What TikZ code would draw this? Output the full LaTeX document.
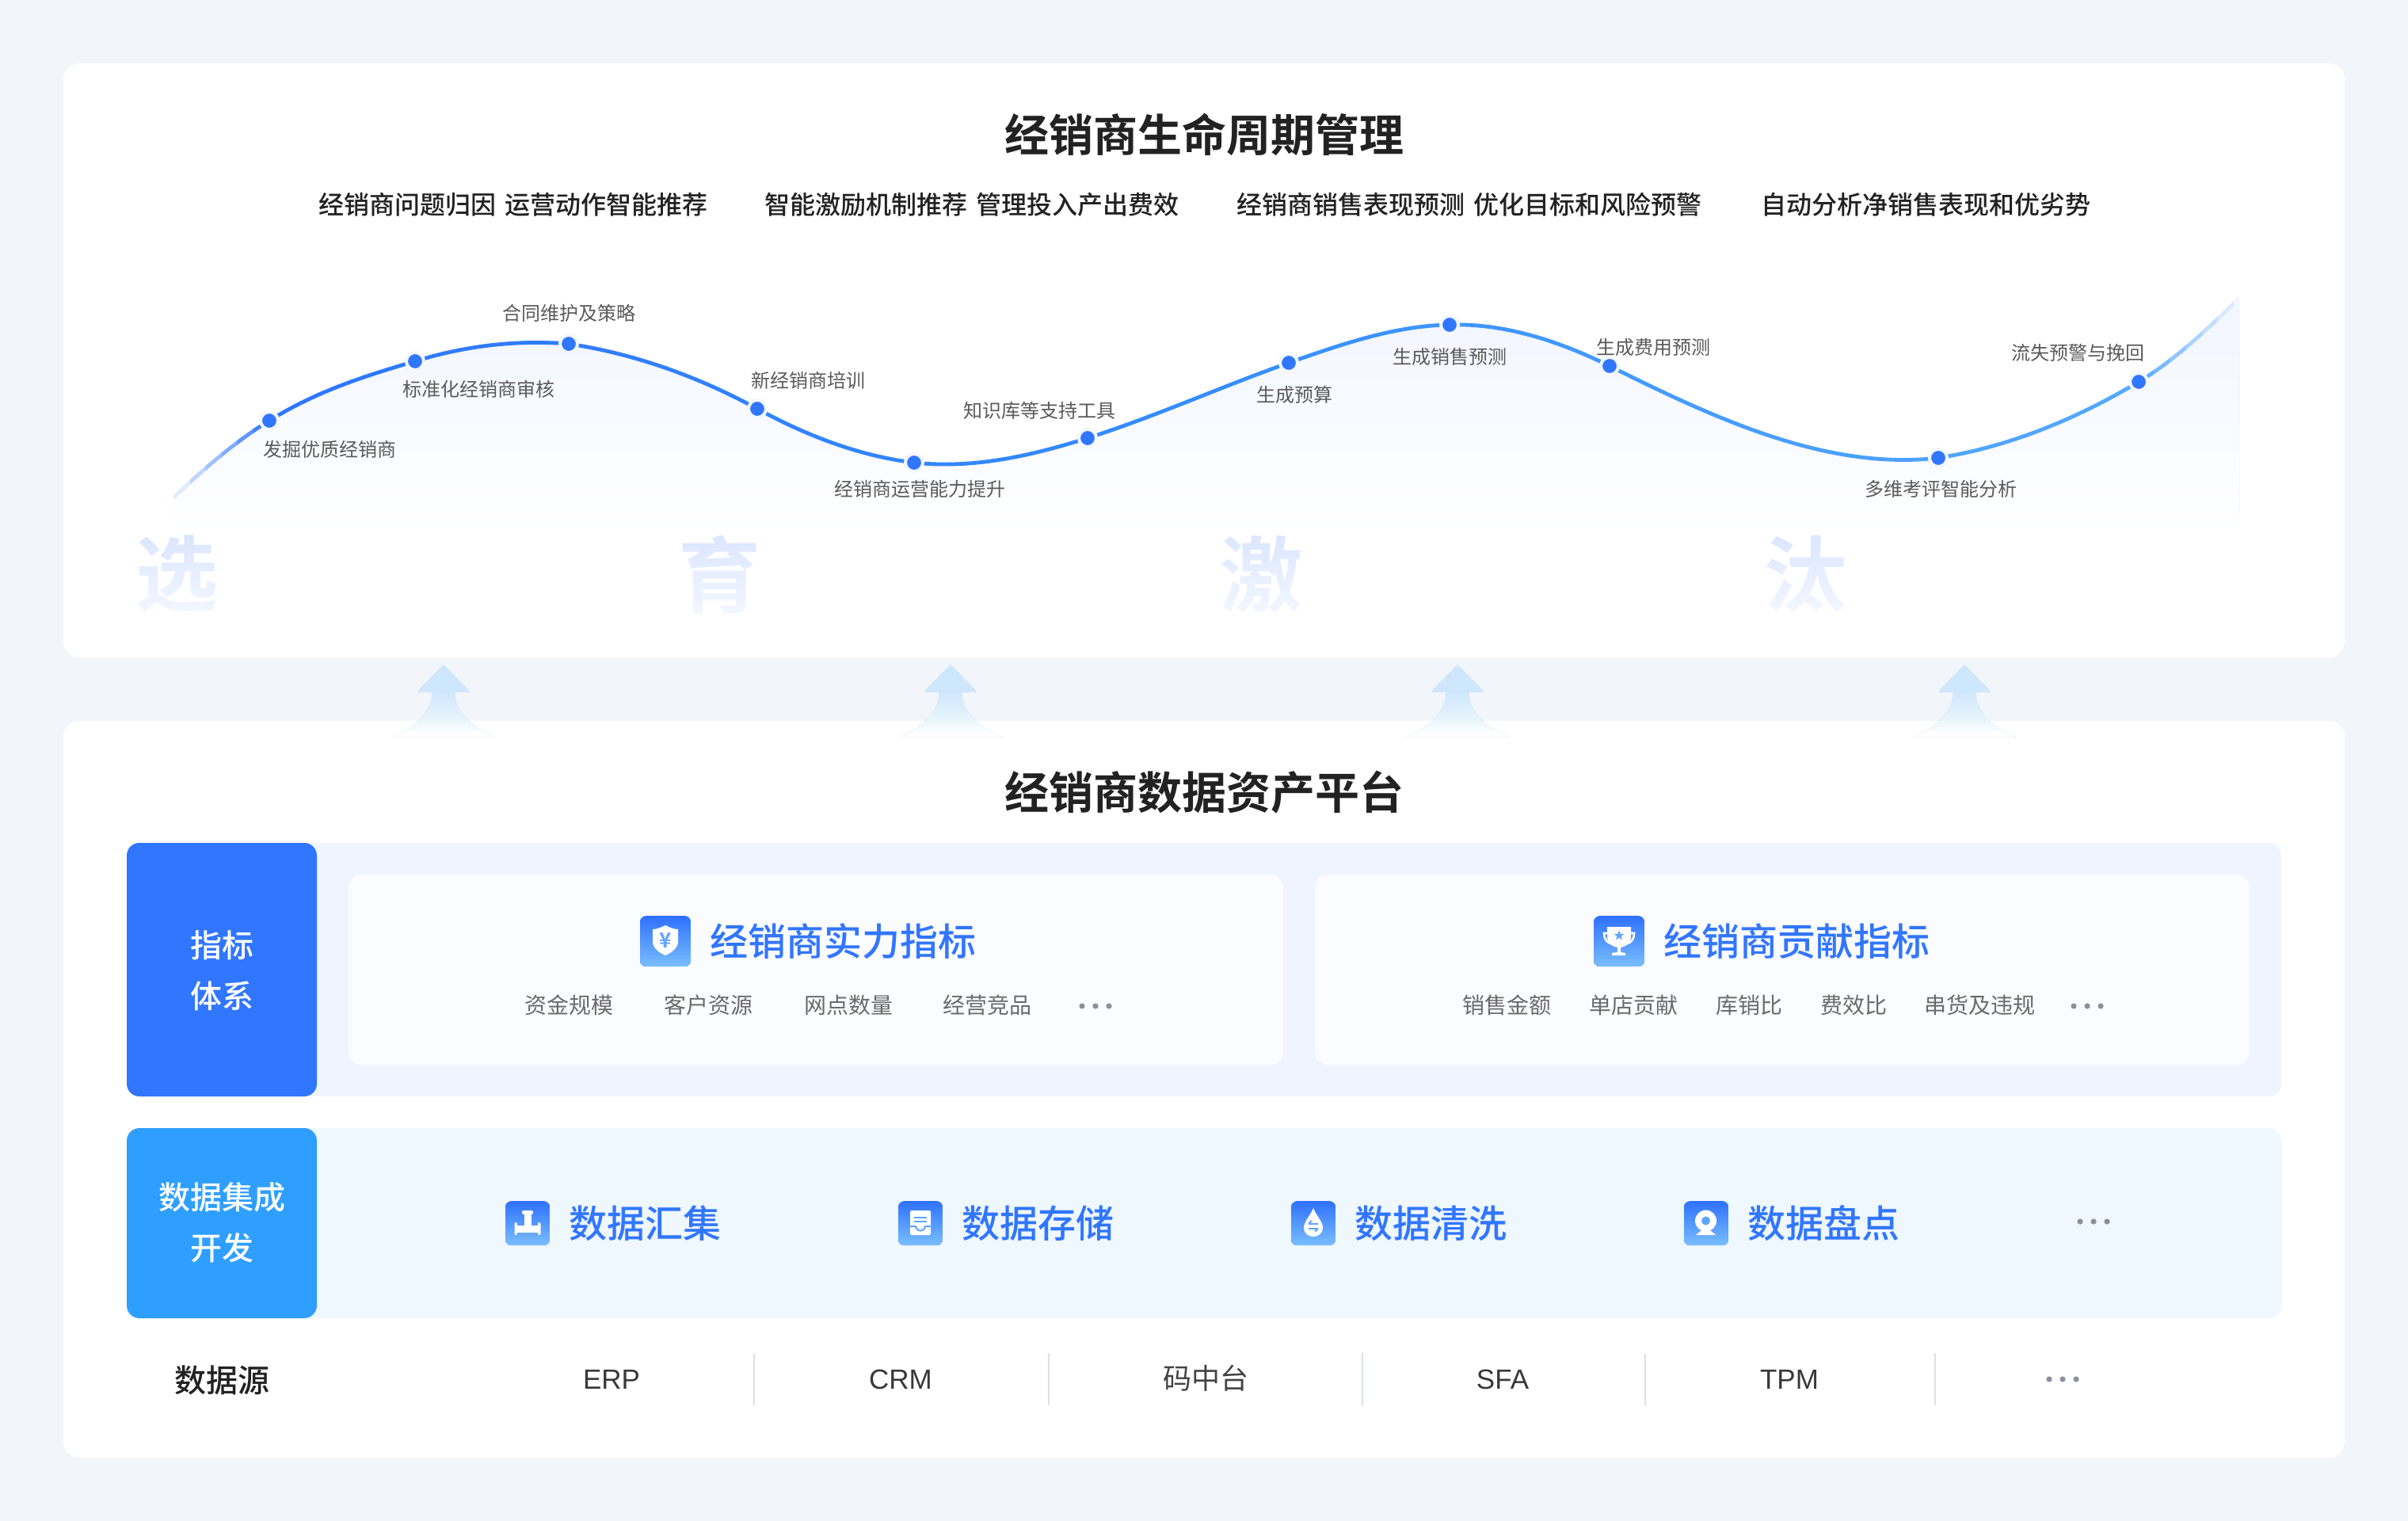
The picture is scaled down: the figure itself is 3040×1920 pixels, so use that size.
\documentclass[tikz,border=0pt]{standalone}
\usepackage{fontspec}
\usetikzlibrary{fadings,shapes.geometric}
\setmainfont{Noto Sans CJK SC}[BoldFont={Noto Sans CJK SC Bold}]
\newfontfamily\medf{Noto Sans CJK SC Medium}
\newfontfamily\latf{Liberation Sans}
\definecolor{pagebg}{HTML}{F2F5FA}
\definecolor{band1}{HTML}{F0F4FE}
\definecolor{band2}{HTML}{EFF7FF}
\definecolor{inner}{HTML}{FBFCFF}
\definecolor{blueA}{HTML}{3176FF}
\definecolor{blueB}{HTML}{2F9FFF}
\definecolor{ink}{HTML}{222222}
\definecolor{gray5}{HTML}{5A5A5A}
\definecolor{gray6}{HTML}{6A6A6A}
\definecolor{dotgray}{HTML}{8A8F99}
\definecolor{sepc}{HTML}{DDE1E8}
\definecolor{halo}{HTML}{F3F7FF}
\definecolor{bigc}{HTML}{D9E5FF}
\definecolor{icG}{HTML}{5FA4FF}
\begin{tikzfading}[name=fadedown,top color=transparent!100,bottom color=transparent!25]\end{tikzfading}
\newcommand{\fz}[1]{\fontsize{\dimexpr#1pt/2\relax}{\dimexpr#1pt/2\relax}\selectfont}
\newcommand{\curvepts}{(217,630) .. controls (258,591) and (299,556) .. (340,531)
 .. controls (401,493) and (463,474) .. (524,456)
 .. controls (589,436) and (653,429) .. (718,434)
 .. controls (797,446) and (877,473) .. (956,516)
 .. controls (1022,552) and (1088,576) .. (1154,584)
 .. controls (1227,592) and (1300,576) .. (1373,553)
 .. controls (1458,526) and (1542,488) .. (1627,458)
 .. controls (1695,434) and (1762,411) .. (1830,410)
 .. controls (1897,408) and (1965,429) .. (2032,462)
 .. controls (2170,531) and (2309,594) .. (2447,578)
 .. controls (2531,565) and (2616,532) .. (2700,482)
 .. controls (2742,457) and (2785,418) .. (2827,376)}
\tikzset{
  panel/.style={fill=white,draw=none,rounded corners=10pt},
  tagbox/.style={draw=none,rounded corners=8pt,inner sep=0pt},
  tagtext/.style={font=\fz{40}\medf,text=white,inner sep=0pt},
  title/.style={font=\fz{56}\bfseries,text=ink,inner sep=0pt},
  subtitle/.style={font=\fz{32}\medf,text=ink,inner sep=0pt},
  cuvlabel/.style={font=\fz{24},text=gray5,inner sep=0pt},
  bigchar/.style={font=\fz{104}\bfseries,text=bigc,inner sep=0pt},
  headblue/.style={font=\fz{48}\medf,text=blueA,inner sep=0pt,anchor=west},
  sublabel/.style={font=\fz{28},text=gray6,inner sep=0pt},
  srclabel/.style={font=\fz{36},text=ink!85,inner sep=0pt},
  srclatin/.style={font=\fz{35}\latf,text=ink!90,inner sep=0pt},
  ptdot/.style={circle,fill=blueA,draw=halo,line width=2pt,minimum size=11pt,inner sep=0pt},
  morepoint/.style={circle,fill=dotgray,draw=none,minimum size=3.6pt,inner sep=0pt},
  sepline/.style={draw=sepc,line width=1pt},
  glyphw/.style={fill=white,draw=none},
}
\newcommand{\morepts}[3]{%
  \node[morepoint] (#1a) at (#2-17,#3) {};
  \node[morepoint] (#1b) at (#2,#3) {};
  \node[morepoint] (#1c) at (#2+17,#3) {};}
\newcommand{\uparrowat}[1]{%
  \begin{scope}
  \clip (#1,839) -- (#1+31,871) -- (#1+32,874) -- (#1+14,873)
   .. controls (#1+14,895) and (#1+30,916) .. (#1+64,930) -- (#1-64,930)
   .. controls (#1-30,916) and (#1-14,895) .. (#1-14,873) -- (#1-32,874) -- (#1-31,871) -- cycle;
  \foreach \yy in {839,842,...,929}{
    \pgfmathsetmacro{\rr}{\yy<872?0.812:(\yy<905?0.812+(0.902-0.812)*(\yy-872)/33:(\yy<925?0.902+(1-0.902)*(\yy-905)/20:1))}
    \pgfmathsetmacro{\gg}{\yy<872?0.906:(\yy<905?0.906+(0.957-0.906)*(\yy-872)/33:(\yy<925?0.957+(1-0.957)*(\yy-905)/20:1))}
    \pgfmathsetmacro{\bb}{\yy<872?0.992:(\yy<905?0.992+(0.988-0.992)*(\yy-872)/33:(\yy<925?0.988+(1-0.988)*(\yy-905)/20:1))}
    \definecolor{stripc}{rgb}{\rr,\gg,\bb}
    \fill[stripc] (#1-70,\yy) rectangle (#1+70,932);
  }
  \end{scope}}
\newcommand{\gradicon}[3]{% x, y, size
  \begin{scope}
  \clip[rounded corners=4pt] (#1,#2) rectangle (#1+#3,#2+#3);
  \foreach \tt in {0,0.04,...,1.0}{
    \pgfmathsetmacro{\rr}{0.184+(0.478-0.184)*\tt}
    \pgfmathsetmacro{\gg}{0.447+(0.749-0.447)*\tt}
    \definecolor{stripc}{rgb}{\rr,\gg,1}
    \fill[stripc] (#1,{#2+\tt*#3}) rectangle (#1+#3,#2+#3);
  }
  \end{scope}}
\begin{document}
\begin{tikzpicture}[x=0.5pt,y=-0.5pt]
\useasboundingbox (0,0) rectangle (3040,1920);
\fill[pagebg] (0,0) rectangle (3040,1920);
% panels
\path[panel] (80,80) rectangle (2960,830);
\path[panel] (80,910) rectangle (2960,1840);
\node[title] (t1) at (1520,170) {经销商生命周期管理};
\node[subtitle] (s1) at (648,258) {经销商问题归因 \kern2pt运营动作智能推荐};
\node[subtitle] (s2) at (1227,258) {智能激励机制推荐 \kern2pt管理投入产出费效};
\node[subtitle] (s3) at (1855,258) {经销商销售表现预测 \kern2pt优化目标和风险预警};
\node[subtitle] (s4) at (2431,258) {自动分析净销售表现和优劣势};
% area under the curve, painted top to bottom in solid bands
\begin{scope}
  \clip \curvepts -- (2827,672) -- (217,672) -- cycle;
  \foreach \yy in {376,380,...,680}{
    \pgfmathsetmacro{\tt}{min(1,(\yy-376)/290)}
    \pgfmathsetmacro{\rr}{0.945+0.055*\tt}
    \pgfmathsetmacro{\gg}{0.961+0.039*\tt}
    \definecolor{stripc}{rgb}{\rr,\gg,1}
    \fill[stripc] (200,\yy) rectangle (2840,690);
  }
\end{scope}
\fill[white] (200,664) rectangle (2840,680);
% curve, coloured strip by strip along x
\foreach \xa in {200,220,...,2820}{
  \pgfmathsetmacro{\xm}{\xa+10}
  \pgfmathsetmacro{\rr}{\xm<340?1-(\xm-210)/130*(1-0.184):(\xm<1500?0.184+0.02*(\xm-340)/1160:(\xm<2700?0.204+0.13*(\xm-1500)/1200:0.334+0.6*(\xm-2700)/127))}
  \pgfmathsetmacro{\gg}{\xm<340?1-(\xm-210)/130*(1-0.463):(\xm<1500?0.463+0.09*(\xm-340)/1160:(\xm<2700?0.553+0.11*(\xm-1500)/1200:0.663+0.29*(\xm-2700)/127))}
  \definecolor{stripc}{rgb}{\rr,\gg,1}
  \begin{scope}
    \clip (\xa-0.5,360) rectangle (\xa+20.5,650);
    \draw[stripc,line width=2.4pt] \curvepts;
  \end{scope}
}
\node[ptdot] (d1) at (340,531) {};
\node[ptdot] (d2) at (524,456) {};
\node[ptdot] (d3) at (718,434) {};
\node[ptdot] (d4) at (956,516) {};
\node[ptdot] (d5) at (1154,584) {};
\node[ptdot] (d6) at (1373,553) {};
\node[ptdot] (d7) at (1627,458) {};
\node[ptdot] (d8) at (1830,410) {};
\node[ptdot] (d9) at (2032,462) {};
\node[ptdot] (d10) at (2447,578) {};
\node[ptdot] (d11) at (2700,482) {};
\node[cuvlabel] (l1) at (416,567) {发掘优质经销商};
\node[cuvlabel] (l2) at (604,491) {标准化经销商审核};
\node[cuvlabel] (l3) at (718,395) {合同维护及策略};
\node[cuvlabel] (l4) at (1020,480) {新经销商培训};
\node[cuvlabel] (l5) at (1161,617) {经销商运营能力提升};
\node[cuvlabel] (l6) at (1312,518) {知识库等支持工具};
\node[cuvlabel] (l7) at (1634,498) {生成预算};
\node[cuvlabel] (l8) at (1830,450) {生成销售预测};
\node[cuvlabel] (l9) at (2087,438) {生成费用预测};
\node[cuvlabel] (l10) at (2450,617) {多维考评智能分析};
\node[cuvlabel] (l11) at (2623,445) {流失预警与挽回};
% big characters
\node[bigchar] (b1) at (223,725) {选};
\node[bigchar] (b2) at (908,725) {育};
\node[bigchar] (b3) at (1592,725) {激};
\node[bigchar] (b4) at (2279,725) {汰};
\fill[white,path fading=fadedown] (150,668) rectangle (2360,782);
% arrows
\uparrowat{560}
\uparrowat{1200}
\uparrowat{1840}
\uparrowat{2480}
% lower panel
\node[title] (t2) at (1520,1000) {经销商数据资产平台};
\fill[band1] (380,1064) -- (2864,1064) arc (-90:0:16) -- (2880,1368) arc (0:90:16) -- (380,1384) -- cycle;
\fill[band2] (380,1424) -- (2864,1424) arc (-90:0:16) -- (2880,1648) arc (0:90:16) -- (380,1664) -- cycle;
\node[tagbox,fill=blueA,minimum width=120pt,minimum height=160pt] (tag1) at (280,1224) {};
\node[tagbox,fill=blueB,minimum width=120pt,minimum height=120pt] (tag2) at (280,1544) {};
\node[tagtext] (tag1a) at (280,1193) {指标};
\node[tagtext] (tag1b) at (280,1257) {体系};
\node[tagtext] (tag2a) at (280,1511) {数据集成};
\node[tagtext] (tag2b) at (280,1575) {开发};
\path[fill=inner,rounded corners=8pt] (440,1104) rectangle (1620,1344);
\path[fill=inner,rounded corners=8pt] (1660,1104) rectangle (2840,1344);
% metric head 1
\gradicon{808}{1156}{64}
\fill[glyphw] (840,1168) .. controls (834,1171) and (829,1173) .. (824,1173) -- (824,1189) .. controls (824,1197) and (833,1203) .. (840,1206) .. controls (847,1203) and (856,1197) .. (856,1189) -- (856,1173) .. controls (851,1173) and (846,1171) .. (840,1168) -- cycle;
\node[font=\fz{26}\bfseries,text=icG,inner sep=0pt] (yen) at (840,1187) {¥};
\node[headblue] (h1) at (896,1188) {经销商实力指标};
\node[sublabel] (m1) at (718,1269) {资金规模};
\node[sublabel] (m2) at (894,1269) {客户资源};
\node[sublabel] (m3) at (1071,1269) {网点数量};
\node[sublabel] (m4) at (1246,1269) {经营竞品};
\morepts{ma}{1383}{1270}
% metric head 2
\gradicon{2012}{1156}{64}
\fill[glyphw] (2029,1170) -- (2059,1170) -- (2059,1184) .. controls (2059,1191) and (2052,1195) .. (2046,1196) -- (2046,1202) -- (2052,1203) -- (2052,1206) -- (2035,1206) -- (2035,1203) -- (2042,1202) -- (2042,1196) .. controls (2036,1195) and (2029,1191) .. (2029,1184) -- cycle;
\draw[white,line width=1.3pt] (2030,1178) -- (2025,1178) .. controls (2025,1185) and (2028,1189) .. (2033,1191);
\draw[white,line width=1.3pt] (2058,1178) -- (2063,1178) .. controls (2063,1185) and (2060,1189) .. (2055,1191);
\node[star,star points=5,star point ratio=2.4,fill=icG,minimum size=6.6pt,inner sep=0pt] (trstar) at (2044,1181) {};
\node[headblue] (h2) at (2100,1188) {经销商贡献指标};
\node[sublabel] (n1) at (1902,1269) {销售金额};
\node[sublabel] (n2) at (2062,1269) {单店贡献};
\node[sublabel] (n3) at (2208,1269) {库销比};
\node[sublabel] (n4) at (2340,1269) {费效比};
\node[sublabel] (n5) at (2499,1269) {串货及违规};
\morepts{mb}{2635}{1270}
% integration row
\gradicon{638}{1516}{56}
\fill[glyphw,rounded corners=1pt] (659,1528) rectangle (673,1533);
\fill[glyphw] (661.5,1530) rectangle (670.5,1548);
\fill[glyphw] (652,1547) rectangle (680,1556);
\fill[glyphw,rounded corners=1pt] (649.5,1543) rectangle (653,1559);
\fill[glyphw,rounded corners=1pt] (679,1543) rectangle (682.5,1559);
\node[headblue] (g1) at (718,1544) {数据汇集};
\gradicon{1134}{1516}{56}
\fill[glyphw,rounded corners=1pt] (1149,1528) rectangle (1175,1559);
\draw[icG,line width=1pt] (1154,1536.5) -- (1170,1536.5);
\draw[icG,line width=1pt] (1154,1542) -- (1170,1542);
\draw[icG,line width=1pt] (1149,1548) -- (1156,1548) .. controls (1157,1555.5) and (1167,1555.5) .. (1168,1548) -- (1175,1548);
\node[headblue] (g2) at (1214,1544) {数据存储};
\gradicon{1630}{1516}{56}
\fill[glyphw] (1658,1525) .. controls (1654,1535) and (1646,1542) .. (1646,1550) .. controls (1646,1557) and (1652,1561) .. (1658,1561) .. controls (1664,1561) and (1670,1557) .. (1670,1550) .. controls (1670,1542) and (1662,1535) .. (1658,1525) -- cycle;
\draw[icG,line width=1pt] (1652,1544.5) -- (1664,1544.5) (1652,1551) -- (1664,1551);
\draw[icG,line width=1pt] (1656,1541) -- (1652,1544.5) (1660,1554.5) -- (1664,1551);
\node[headblue] (g3) at (1710,1544) {数据清洗};
\gradicon{2126}{1516}{56}
\fill[glyphw] (2153.5,1541) circle (13.5);
\fill[icG] (2153.5,1541) circle (5.5);
\fill[glyphw] (2148,1553) -- (2159,1553) -- (2166,1559) -- (2141,1559) -- cycle;
\node[headblue] (g4) at (2206,1544) {数据盘点};
\morepts{mc}{2643}{1542}
% data sources
\node[font=\fz{40}\medf,text=ink,inner sep=0pt] (src) at (280,1742) {数据源};
\node[srclatin] (e1) at (772,1741) {ERP};
\node[srclatin] (e2) at (1137,1741) {CRM};
\node[srclabel] (e3) at (1522,1740) {码中台};
\node[srclatin] (e4) at (1897,1741) {SFA};
\node[srclatin] (e5) at (2259,1741) {TPM};
\morepts{md}{2604}{1741}
\coordinate (sa1) at (952,1708); \coordinate (sa2) at (952,1774);
\coordinate (sb1) at (1324,1708); \coordinate (sb2) at (1324,1774);
\coordinate (sc1) at (1720,1708); \coordinate (sc2) at (1720,1774);
\coordinate (sd1) at (2077,1708); \coordinate (sd2) at (2077,1774);
\coordinate (se1) at (2443,1708); \coordinate (se2) at (2443,1774);
\draw[sepline] (sa1) -- (sa2);
\draw[sepline] (sb1) -- (sb2);
\draw[sepline] (sc1) -- (sc2);
\draw[sepline] (sd1) -- (sd2);
\draw[sepline] (se1) -- (se2);
\end{tikzpicture}
\end{document}
